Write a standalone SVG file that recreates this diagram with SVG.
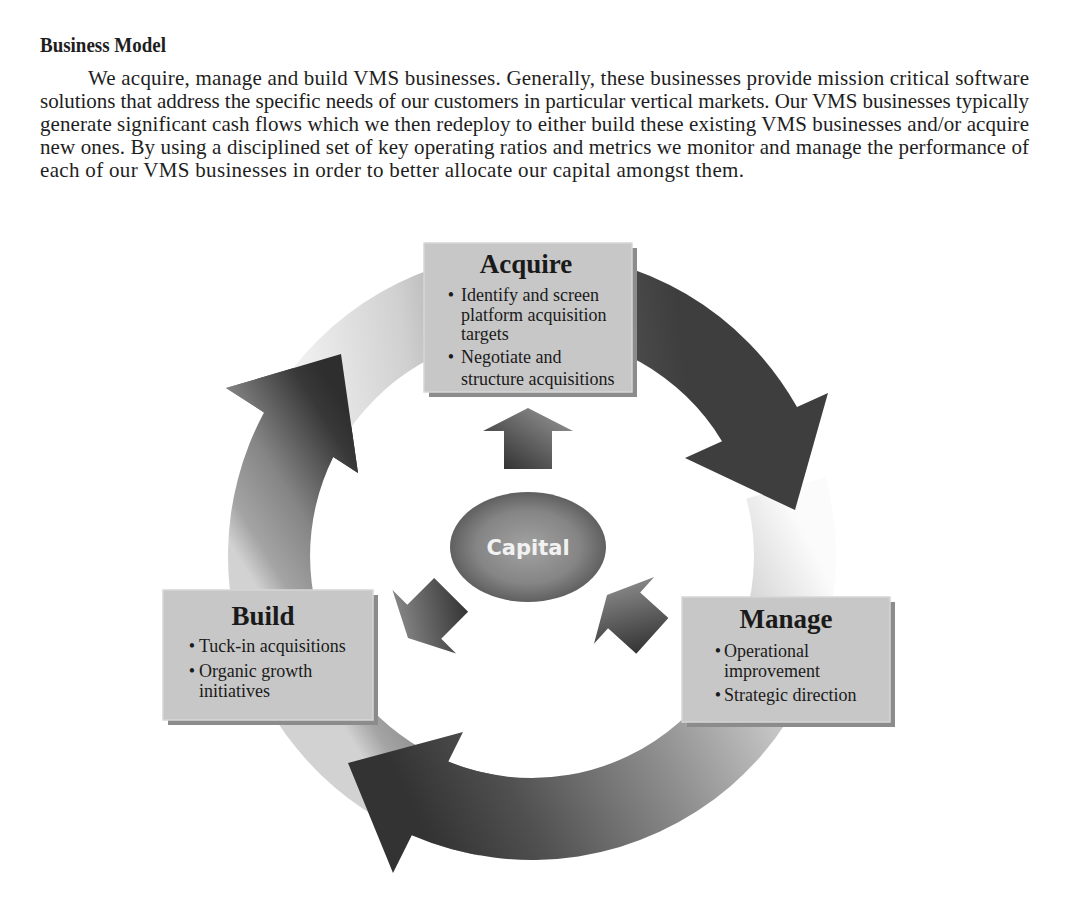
<svg xmlns="http://www.w3.org/2000/svg" xmlns:xlink="http://www.w3.org/1999/xlink" width="1070" height="906" viewBox="0 0 1070 906">
<style>
.para{font-family:"Liberation Serif","Times New Roman",serif;font-size:21px;fill:#1e1e1e}
.head{font-family:"Liberation Serif","Times New Roman",serif;font-size:20px;font-weight:bold;fill:#1e1e1e}
.ttl{font-family:"Liberation Serif","Times New Roman",serif;font-size:27px;font-weight:bold;fill:#1a1a1a;text-anchor:middle}
.bul{font-family:"Liberation Serif","Times New Roman",serif;font-size:18px;fill:#1a1a1a}
.dot{text-anchor:middle}
.box{fill:#c7c7c7;stroke:#d6d6d6;stroke-width:1.5}
.shd{fill:#8c8c8c}
.cap{font-family:"DejaVu Sans",Verdana,sans-serif;font-size:21px;font-weight:bold;fill:#f2f2f2;text-anchor:middle}
</style>
<defs>
<linearGradient id="gL" gradientUnits="userSpaceOnUse" x1="215" y1="520" x2="360" y2="430">
<stop offset="0" stop-color="#d2d2d2"/><stop offset="0.15" stop-color="#a4a4a4"/><stop offset="0.45" stop-color="#858585"/><stop offset="0.86" stop-color="#383838"/><stop offset="1" stop-color="#2e2e2e"/>
</linearGradient>
<linearGradient id="gB" gradientUnits="userSpaceOnUse" x1="840" y1="600" x2="420" y2="820">
<stop offset="0" stop-color="#fbfbfb"/><stop offset="0.25" stop-color="#c4c4c4"/><stop offset="0.5" stop-color="#8c8c8c"/><stop offset="0.8" stop-color="#505050"/><stop offset="1" stop-color="#333333"/>
</linearGradient>
<linearGradient id="gT" gradientUnits="userSpaceOnUse" x1="290" y1="380" x2="680" y2="330">
<stop offset="0" stop-color="#f4f4f4"/><stop offset="0.3" stop-color="#d0d0d0"/><stop offset="0.88" stop-color="#4a4a4a"/><stop offset="1" stop-color="#3e3e3e"/>
</linearGradient>
<linearGradient id="gS" x1="0" y1="1" x2="1" y2="0">
<stop offset="0" stop-color="#262626"/><stop offset="1" stop-color="#9c9c9c"/>
</linearGradient>
<radialGradient id="gC" cx="0.5" cy="0.5" r="0.55">
<stop offset="0" stop-color="#a2a2a2"/><stop offset="0.6" stop-color="#858585"/><stop offset="1" stop-color="#555555"/>
</radialGradient>
<path id="smallArrow" d="M0,0 L45,23 L24,23 L24,61 L-24,61 L-24,23 L-45,23 Z"/>
<path id="leftHead" d="M226,388 L341,354 L358,473 L333.3,457.1 L264,412.5 Z"/>
</defs>
<rect width="1070" height="906" fill="#ffffff"/>
<g id="text-block">
<text class="head" x="40" y="52" textLength="126" lengthAdjust="spacingAndGlyphs">Business Model</text>
<text class="para" x="88" y="85" textLength="941" lengthAdjust="spacing">We acquire, manage and build VMS businesses. Generally, these businesses provide mission critical software</text>
<text class="para" x="40" y="108" textLength="989" lengthAdjust="spacing">solutions that address the specific needs of our customers in particular vertical markets. Our VMS businesses typically</text>
<text class="para" x="40" y="131" textLength="989" lengthAdjust="spacing">generate significant cash flows which we then redeploy to either build these existing VMS businesses and/or acquire</text>
<text class="para" x="40" y="154" textLength="989" lengthAdjust="spacing">new ones. By using a disciplined set of key operating ratios and metrics we monitor and manage the performance of</text>
<text class="para" x="40" y="177" textLength="704" lengthAdjust="spacing">each of our VMS businesses in order to better allocate our capital amongst them.</text>
</g>
<g id="connectors">
<path id="arrowLeft" fill="url(#gL)" d="M479.2,855.4 A304,304 0 0 1 264,412.5 L226,388 L341,354 L358,473 L333.3,457.1 A222,222 0 0 0 493.5,774.6 Z"/>
<path id="arrowBottom" fill="url(#gB)" d="M825.6,477.3 A304,304 0 0 1 411.8,835.2 L393,873 L348,763 L463,732 L448.3,761.6 A222,222 0 0 0 746.4,498.5 Z"/>
<path id="arrowTop" fill="url(#gT)" d="M268.7,404 A304,304 0 0 1 797,407.1 L828,393 L795,510 L685,458 L722,441.2 A222,222 0 0 0 339.7,445 Z"/>
<use xlink:href="#leftHead" href="#leftHead" fill="url(#gL)"/>
<use xlink:href="#smallArrow" href="#smallArrow" fill="url(#gS)" transform="translate(528,408)"/>
<use xlink:href="#smallArrow" href="#smallArrow" fill="url(#gS)" transform="translate(408,638) rotate(225)"/>
<use xlink:href="#smallArrow" href="#smallArrow" fill="url(#gS)" transform="translate(607,595) rotate(-48)"/>
</g>
<g id="acquire">
<rect class="shd" x="429" y="248" width="208" height="149"/>
<rect class="box" x="424" y="243" width="208" height="149"/>
<text class="ttl" x="526" y="273">Acquire</text>
<text class="bul dot" x="451" y="301">•</text>
<text class="bul" x="461" y="301">Identify and screen</text>
<text class="bul" x="461" y="321">platform acquisition</text>
<text class="bul" x="461" y="340">targets</text>
<text class="bul dot" x="451" y="363">•</text>
<text class="bul" x="461" y="363">Negotiate and</text>
<text class="bul" x="461" y="385">structure acquisitions</text>
</g>
<g id="build">
<rect class="shd" x="168" y="595" width="210" height="130"/>
<rect class="box" x="163" y="590" width="210" height="130"/>
<text class="ttl" x="263" y="625">Build</text>
<text class="bul dot" x="192" y="652">•</text>
<text class="bul" x="199" y="652">Tuck-in acquisitions</text>
<text class="bul dot" x="192" y="677">•</text>
<text class="bul" x="199" y="677">Organic growth</text>
<text class="bul" x="199" y="697">initiatives</text>
</g>
<g id="manage">
<rect class="shd" x="687" y="602" width="208" height="125"/>
<rect class="box" x="682" y="597" width="208" height="125"/>
<text class="ttl" x="786" y="628">Manage</text>
<text class="bul dot" x="718" y="657">•</text>
<text class="bul" x="724" y="657">Operational</text>
<text class="bul" x="724" y="677">improvement</text>
<text class="bul dot" x="718" y="701">•</text>
<text class="bul" x="724" y="701">Strategic direction</text>
</g>
<g id="capital">
<ellipse cx="528" cy="547" rx="78" ry="55" fill="url(#gC)"/>
<text class="cap" x="528" y="555">Capital</text>
</g>
</svg>
